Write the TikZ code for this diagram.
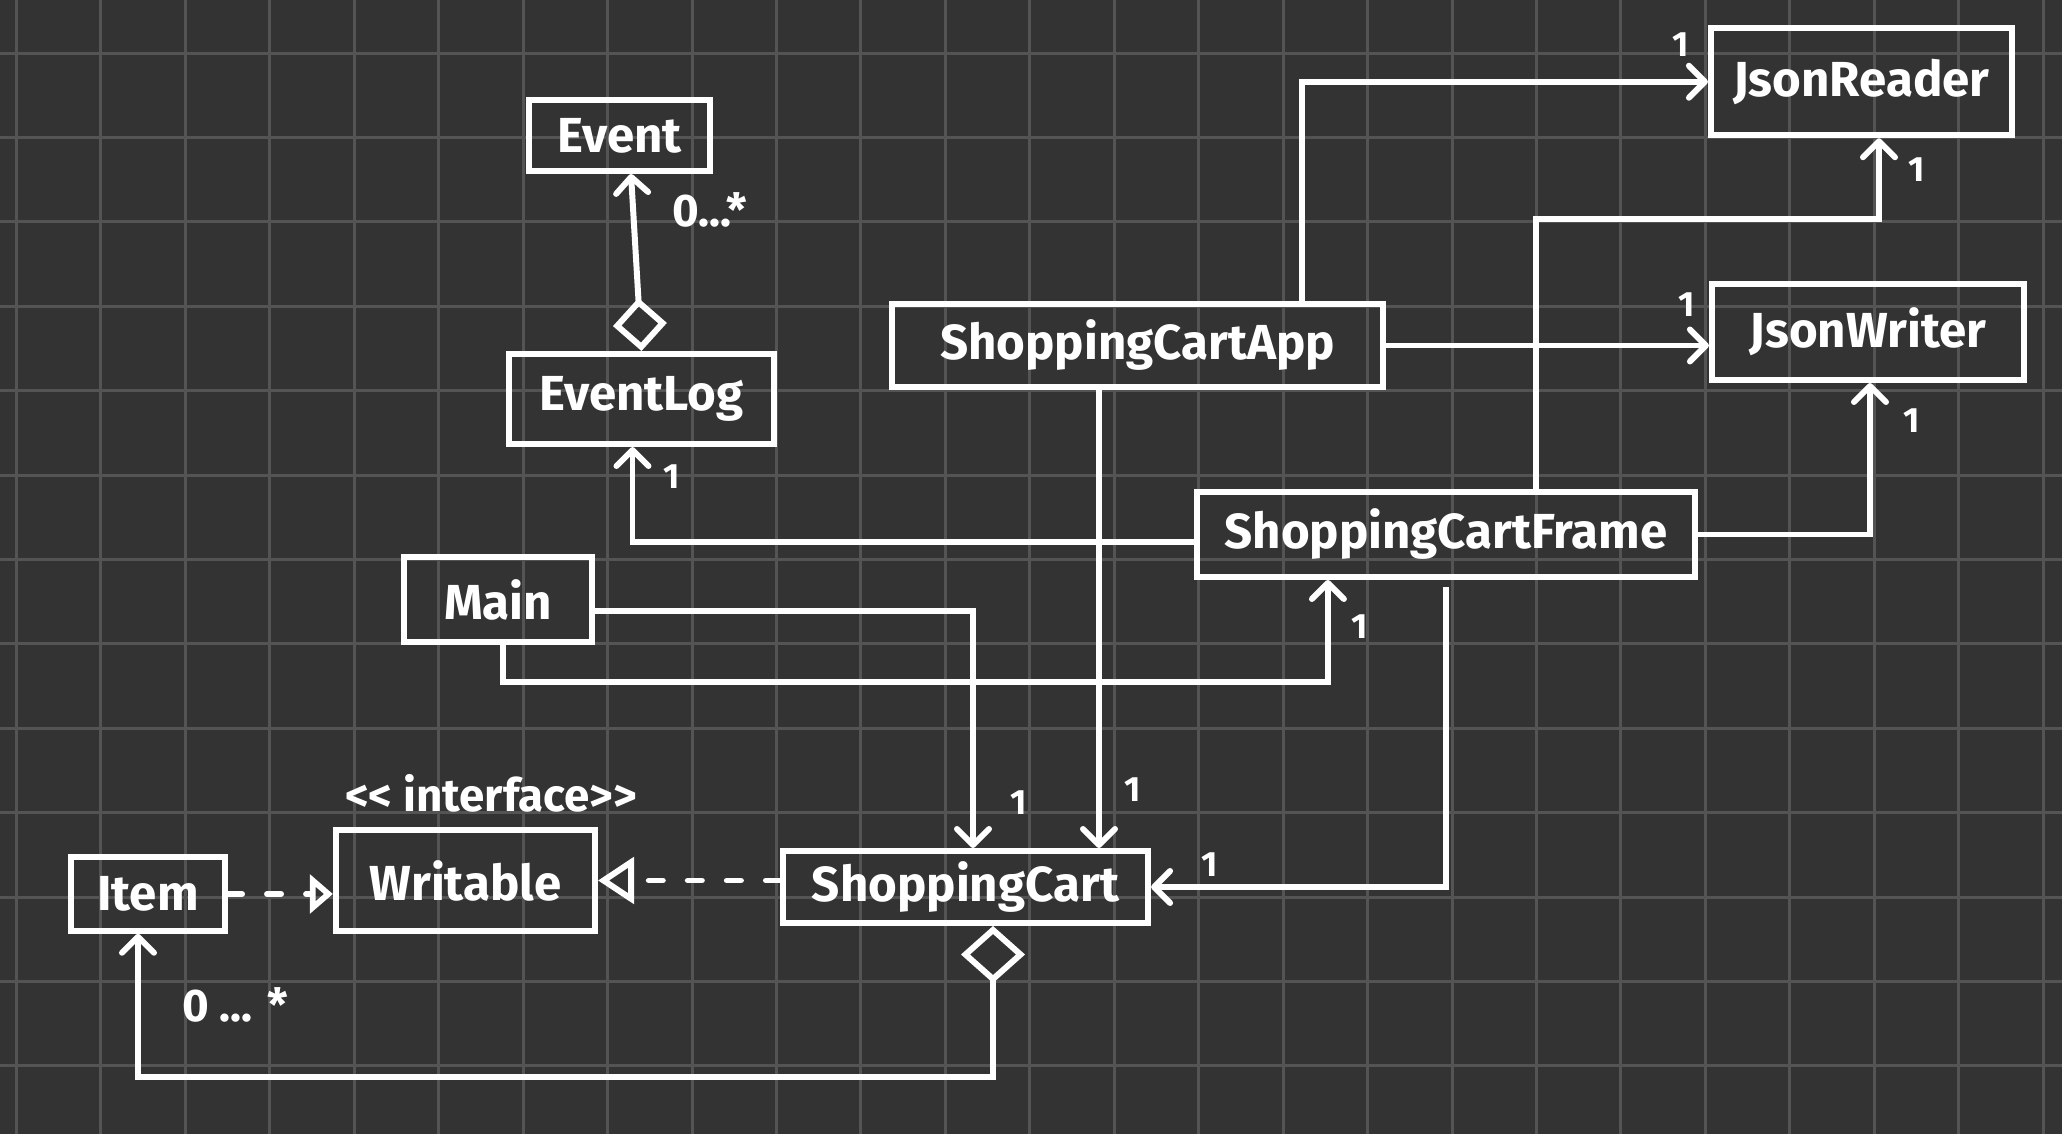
\documentclass[tikz,border=0pt]{standalone}
\usepackage{fontspec}
\setmainfont{Fira Sans}
\usetikzlibrary{arrows.meta}
\definecolor{board}{HTML}{333333}
\definecolor{gridline}{HTML}{545454}
\tikzstyle{classbox}=[draw=white,line width=1.7pt,text=white,inner sep=0pt,font=\fontsize{14}{17}\selectfont\bfseries]
\tikzstyle{edge}=[draw=white,line width=1.7pt,-{Straight Barb[round,length=0.16cm,width=0.32cm]}]
\tikzstyle{aggr}=[edge,{Diamond[open,length=0.57cm,width=0.64cm]}-{Straight Barb[round,length=0.16cm,width=0.32cm]}]
\tikzstyle{realize}=[draw=white,line width=1.7pt,line cap=round,dash pattern=on 0.14cm off 0.25cm,-{Triangle[open,length=0.36cm,width=0.46cm]}]
\tikzstyle{mult}=[text=white,font=\fontsize{10}{12}\selectfont\bfseries]

\begin{document}
\begin{tikzpicture}[x=0.01cm,y=-0.01cm]

   \fill[board] (0,0) rectangle (2062,1134);
   \useasboundingbox (0,0) rectangle (2062,1134);

%grid
   \foreach \i in {0,...,24}
      \draw[gridline,line width=0.03cm] (16.4+84.45*\i,0) -- (16.4+84.45*\i,1134);
   \foreach \j in {0,...,12}
      \draw[gridline,line width=0.03cm] (0,53.2+84.4*\j) -- (2062,53.2+84.4*\j);

%classes
    \foreach \pos/\name/\txt/\w/\h in {{(619.5,135.5)/event/Event/1.81/0.71}, {(641.5,399)/eventlog/EventLog/2.65/0.90},
       {(1137.5,345.5)/app/ShoppingCartApp/4.91/0.83}, {(1861.5,81.75)/jsonreader/JsonReader/3.01/1.07},
       {(1868,332)/jsonwriter/JsonWriter/3.12/0.96}, {(1446,534.5)/frame/ShoppingCartFrame/4.98/0.85},
       {(498,599.5)/main/Main/1.88/0.85}, {(965.5,887)/cart/ShoppingCart/3.65/0.72},
       {(465.5,880.5)/writable/Writable/2.59/1.01}, {(148,894)/item/Item/1.54/0.735}}
    	\node[classbox,minimum width=\w cm,minimum height=\h cm] (\name) at \pos {\txt};

   \node[mult,font=\fontsize{13}{15}\selectfont\bfseries] (stereo) at (491,793) {<{}< interface>{}>};

    % Connect classes
   \draw[aggr,{Diamond[open,length=0.53cm,width=0.54cm]}-{Straight Barb[round,length=0.16cm,width=0.32cm]}] (eventlog.north) -- ([xshift=0.115cm]event.south);
   \draw[edge] ([yshift=-0.075cm]frame.west) -| ([xshift=-0.09cm]eventlog.south);
   \draw[edge] ([xshift=1.645cm]app.north) |- (jsonreader.west);
   \draw[edge] (app.east) -- (app.east -| jsonwriter.west);
   \draw[edge] ([xshift=0.9cm]frame.north) -- ++(0,-270) -| ([xshift=0.175cm]jsonreader.south);
   \draw[edge] (frame.east) -| ([xshift=0.02cm]jsonwriter.south);
   \draw[edge] ([yshift=-0.115cm]main.east) -| ([xshift=0.075cm]cart.north);
   \draw[edge] ([xshift=0.05cm]main.south) -- ++(0,37) -| ([xshift=-1.18cm]frame.south);
   \coordinate (appout) at ([xshift=-0.385cm]app.south);
   \draw[edge] (appout) -- (appout |- cart.north);
   \draw[edge] ([yshift=-0.07cm]frame.south) |- (cart.east);
   \draw[realize] (cart.west |- writable.east) -- (writable.east);
   \draw[realize,-{Triangle[open,length=0.23cm,width=0.38cm]}] (item.east) -- (item.east -| writable.west);
   \draw[aggr] ([xshift=0.275cm]cart.south) -- ++(0,151) -| ([xshift=-0.1cm]item.south);

% multiplicities
   \node[mult,font=\fontsize{13}{15}\selectfont\bfseries] (m1) at (710,210) {0...*};
   \node[mult] (m2) at (672,477) {1};
   \node[mult] (m3) at (1681,45) {1};
   \node[mult] (m4) at (1687,305) {1};
   \node[mult] (m5) at (1917,170) {1};
   \node[mult] (m6) at (1912,421) {1};
   \node[mult] (m7) at (1019,803) {1};
   \node[mult] (m8) at (1133,790) {1};
   \node[mult] (m9) at (1360,627) {1};
   \node[mult] (m10) at (1210,865) {1};
   \node[mult,font=\fontsize{13}{15}\selectfont\bfseries] (m11) at (235,1005) {0 ... *};

   \end{tikzpicture}
\end{document}
